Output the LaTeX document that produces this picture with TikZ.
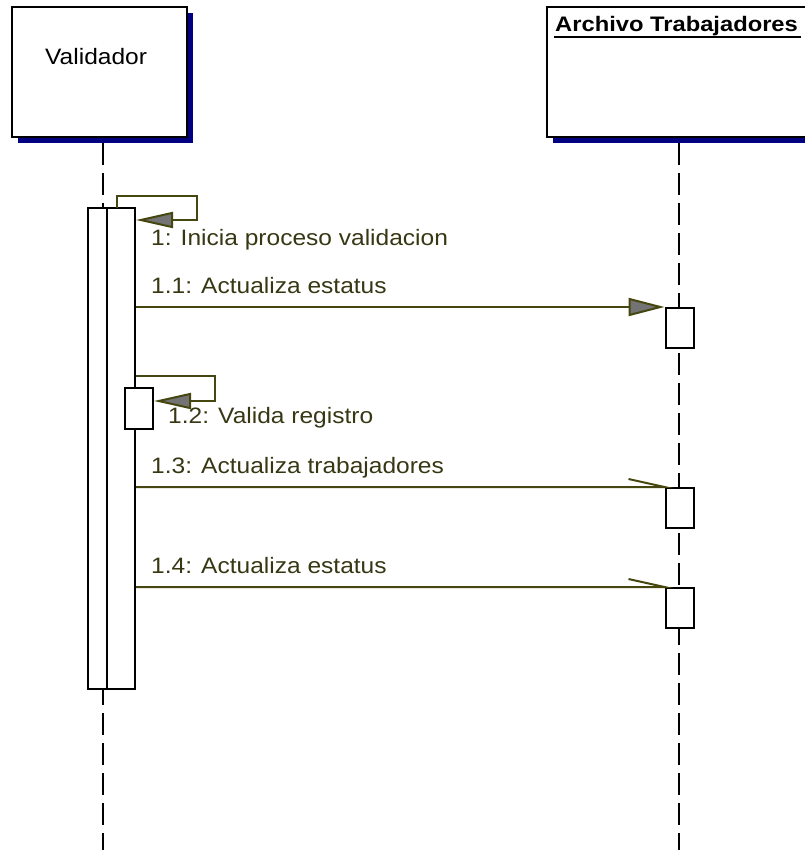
\documentclass[tikz,border=0pt]{standalone}
\usepackage{fontspec}
\setmainfont{Liberation Sans}[FakeStretch=1.1]
\newfontfamily\titlefont{Liberation Sans}[FakeStretch=1.13]
\usetikzlibrary{arrows.meta}
\definecolor{olivemsg}{RGB}{70,70,16}
\definecolor{olivetxt}{RGB}{55,55,20}
\definecolor{arrowgray}{RGB}{115,115,115}
\definecolor{shadowblue}{RGB}{0,0,128}
\begin{document}
\begin{tikzpicture}[x=1pt,y=-1pt,
  objbox/.style={draw=black,line width=2pt,fill=white,inner sep=0pt},
  shadowbox/.style={fill=shadowblue,draw=none},
  actbox/.style={draw=black,line width=2pt,fill=white,inner sep=0pt,minimum width=28pt},
  lifeline/.style={draw=black,line width=2pt,dash pattern=on 22pt off 8pt},
  msg/.style={draw=olivemsg,line width=2pt},
  filledtip/.style={-{Triangle[length=36pt,width=18pt,fill=arrowgray]}},
  selftip/.style={-{Triangle[length=37pt,width=16pt,fill=arrowgray]}},
  msgtext/.style={anchor=base west,inner sep=0pt,text=olivetxt,font=\fontsize{22.3}{26}\selectfont},
]
\useasboundingbox (0,0) rectangle (804,850);
% object heads
\fill[shadowblue] (18,13) rectangle (193,143);
\node[objbox,minimum width=175pt,minimum height=130pt] (val) at (99.5,72) {};
\node[anchor=base west,inner sep=0pt,font=\fontsize{22.3}{26}\selectfont] (valtxt) at (45,65) {Validador};
\fill[shadowblue] (553,13) rectangle (812,143);
\node[objbox,minimum width=259pt,minimum height=130pt] (arch) at (676.5,72) {};
\node[anchor=base west,inner sep=0pt,font=\titlefont\bfseries\fontsize{21}{25}\selectfont] (archtxt) at (555,32) {Archivo Trabajadores};
\draw[line width=2pt] (554,37.5) -- (801,37.5);
% lifelines
\coordinate (valend) at (103,850);
\coordinate (archend) at (679,850);
\draw[lifeline] (103,143) -- (valend);
\draw[lifeline] (679,143) -- (archend);
% activations
\node[actbox,minimum width=19pt,minimum height=481pt] (act1a) at (97.5,448.5) {};
\node[actbox,minimum width=28pt,minimum height=481pt] (act1b) at (121,448.5) {};
\node[actbox,minimum height=40pt] (act2) at (679.5,328) {};
\node[actbox,minimum height=41pt] (act3) at (139,408.5) {};
\node[actbox,minimum height=40pt] (act4) at (679.5,508) {};
\node[actbox,minimum height=40pt] (act5) at (679.5,608) {};
% message 1 (self)
\draw[msg,selftip] (117,208) -- (117,196) -- (197,196) -- (197,220) -- (act1b.east |- 0,220);
\node[msgtext] (m1) at (151,245) {1: Inicia proceso validacion};
% message 1.1
\draw[msg,filledtip] (act2.north west -| act1b.east) -- (act2.north west);
\node[msgtext] (m11) at (151,293) {1.1: Actualiza estatus};
% message 1.2 (self)
\draw[msg,selftip] (act1b.east |- 0,376) -- (215,376) -- (215,401) -- (act3.east |- 0,401);
\node[msgtext] (m12) at (168,423) {1.2: Valida registro};
% message 1.3
\draw[msg] (act4.north west -| act1b.east) -- (act4.north west) -- ++(-36,-8);
\node[msgtext] (m13) at (151,473) {1.3: Actualiza trabajadores};
% message 1.4
\draw[msg] (act5.north west -| act1b.east) -- (act5.north west) -- ++(-36,-8);
\node[msgtext] (m14) at (151,573) {1.4: Actualiza estatus};
\end{tikzpicture}
\end{document}
